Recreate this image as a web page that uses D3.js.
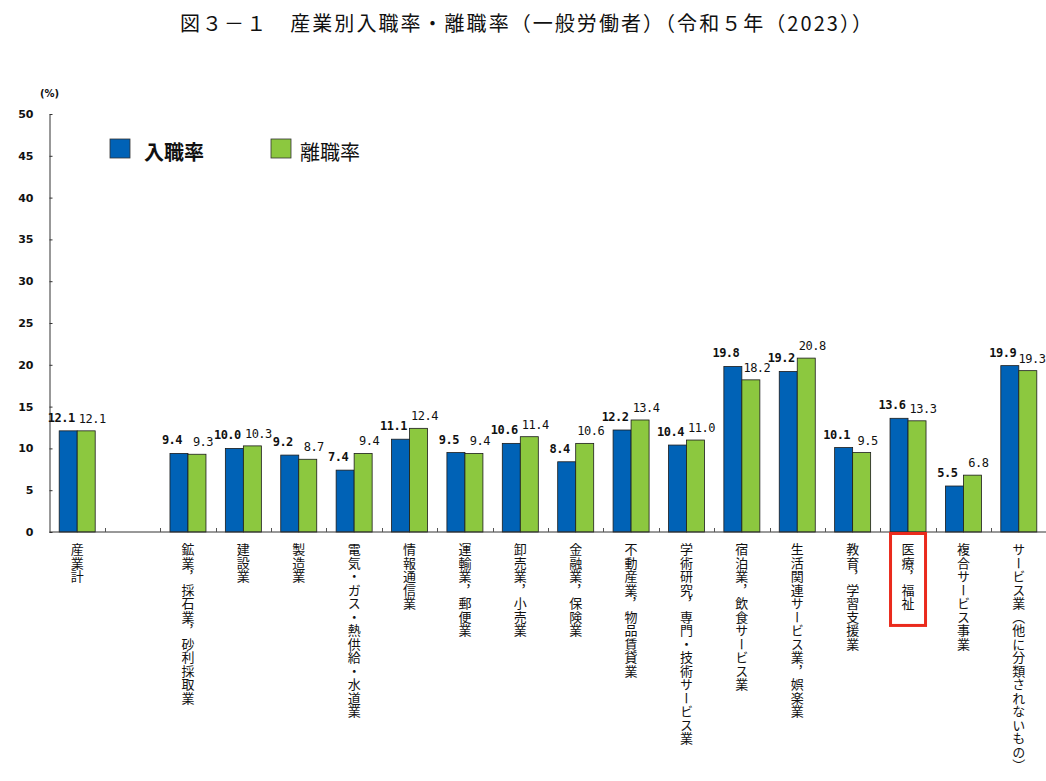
<!DOCTYPE html>
<html>
<head>
<meta charset="utf-8">
<script src="https://cdn.jsdelivr.net/npm/d3@7"></script>
<style>
  body { margin: 0; background: #fff; }
  svg { display: block; }
</style>
</head>
<body>
<div id="chart"></div>
<script>
// categories (one blank slot after the total, as in the original)
const industries = [
    "産業計", "",
    "鉱業，採石業，砂利採取業", "建設業", "製造業", "電気・ガス・熱供給・水道業",
    "情報通信業", "運輸業，郵便業", "卸売業，小売業", "金融業，保険業",
    "不動産業，物品賃貸業", "学術研究，専門・技術サービス業", "宿泊業，飲食サービス業",
    "生活関連サービス業，娯楽業", "教育，学習支援業", "医療，福祉", "複合サービス事業",
    "サービス業（他に分類されないもの）"
];
const entryRate = [12.1, null, 9.4, 10.0, 9.2, 7.4, 11.1, 9.5, 10.6, 8.4, 12.2, 10.4, 19.8, 19.2, 10.1, 13.6, 5.5, 19.9];
const separationRate = [12.1, null, 9.3, 10.3, 8.7, 9.4, 12.4, 9.4, 11.4, 10.6, 13.4, 11.0, 18.2, 20.8, 9.5, 13.3, 6.8, 19.3];
const yTicks = [0, 5, 10, 15, 20, 25, 30, 35, 40, 45, 50];
const seriesNames = ["入職率", "離職率"];
const highlighted = "医療，福祉";

const titleText = "図３－１　産業別入職率・離職率（一般労働者）（令和５年（2023））";

const width = 1046, height = 781;
const jp = "'Noto Sans CJK JP', sans-serif";
const blue = "#0062B6", green = "#8CC83F";

const svg = d3.select("#chart").append("svg")
    .attr("width", width)
    .attr("height", height);

// title
svg.append("text")
    .attr("x", 180)
    .attr("y", 31)
    .attr("textLength", 692)
    .attr("lengthAdjust", "spacing")
    .attr("font-family", jp)
    .attr("font-size", 20)
    .attr("fill", "#111")
    .text(titleText);

// scales
const x = d3.scaleBand()
    .domain(industries)
    .range([49.5, 1046.5]);

const y = d3.scaleLinear()
    .domain([0, 50])
    .range([532, 114]);

const barW = x.bandwidth() * 0.325;
const groupOff = (x.bandwidth() - 2 * barW) / 2;

// y axis, ticks point inward
const yAxis = d3.axisLeft(y)
    .tickValues(yTicks)
    .tickSizeInner(-3)
    .tickSizeOuter(0)
    .tickPadding(16);

const yg = svg.append("g")
    .attr("transform", "translate(49.5,0)")
    .call(yAxis);
yg.select(".domain").attr("stroke", "#333");
yg.selectAll(".tick line").attr("stroke", "#333");
yg.selectAll(".tick text")
    .attr("font-family", "'DejaVu Sans', sans-serif")
    .attr("font-weight", "bold")
    .attr("font-size", 11)
    .attr("fill", "#111");

svg.append("text")
    .attr("x", 40)
    .attr("y", 97)
    .attr("font-family", "'DejaVu Sans', sans-serif")
    .attr("font-weight", "bold")
    .attr("font-size", 10)
    .attr("fill", "#111")
    .text("(%)");

// bars
const rows = industries.map((name, i) => ({name: name, entry: entryRate[i], sep: separationRate[i]}))
    .filter(d => d.entry !== null);

const groupX = d => x(d.name) + groupOff;

const groups = svg.append("g").selectAll("g")
    .data(rows)
    .join("g")
    .attr("transform", d => `translate(${groupX(d)},0)`);

// soft shadow on the right of each bar
groups.append("rect")
    .attr("x", barW + 1.5)
    .attr("y", d => y(d.sep) + 1)
    .attr("width", 1.6)
    .attr("height", d => y(0) - y(d.sep) - 1)
    .attr("fill", "#9a9a9a");

groups.append("rect")
    .attr("x", 0)
    .attr("y", d => y(d.entry))
    .attr("width", barW)
    .attr("height", d => y(0) - y(d.entry))
    .attr("fill", blue)
    .attr("stroke", "#1b1b1b")
    .attr("stroke-width", 0.8);

groups.append("rect")
    .attr("x", barW)
    .attr("y", d => y(d.sep))
    .attr("width", barW)
    .attr("height", d => y(0) - y(d.sep))
    .attr("fill", green)
    .attr("stroke", "#1b1b1b")
    .attr("stroke-width", 0.8);

// value labels
const numFont = "'DejaVu Sans Mono', monospace";
groups.append("text")
    .attr("class", "val")
    .attr("x", barW / 2 - 7)
    .attr("y", d => y(d.entry) - 9)
    .attr("text-anchor", "middle")
    .attr("font-family", numFont)
    .attr("font-weight", "bold")
    .attr("font-size", 12)
    .attr("letter-spacing", -0.5)
    .attr("fill", "#111")
    .text(d => d.entry.toFixed(1));

groups.append("text")
    .attr("class", "val")
    .attr("x", d => Math.min(barW * 1.5 + 6, width - 14 - groupX(d)))
    .attr("y", d => y(d.sep) - 8)
    .attr("text-anchor", "middle")
    .attr("font-family", numFont)
    .attr("font-size", 12)
    .attr("letter-spacing", -0.5)
    .attr("fill", "#111")
    .text(d => d.sep.toFixed(1));

// lift a label when its digits run into a label already placed (left to right)
const placed = [];
svg.selectAll("text.val").nodes()
    .map(node => {
        const cx = groupX(d3.select(node).datum()) + (+node.getAttribute("x"));
        const w = node.getComputedTextLength();
        return {node: node, left: cx - w / 2, right: cx + w / 2};
    })
    .sort((a, b) => a.left - b.left)
    .forEach(lab => {
        let base = +lab.node.getAttribute("y");
        let moved = true;
        while (moved) {
            moved = false;
            for (const p of placed) {
                const overlapX = Math.min(lab.right, p.right) - Math.max(lab.left, p.left);
                if (overlapX > 3.5 && Math.abs(base - p.base) < 10.5) {
                    base = p.base - 11;
                    moved = true;
                    break;
                }
            }
        }
        lab.node.setAttribute("y", base);
        placed.push({left: lab.left, right: lab.right, base: base});
    });

// x axis baseline and small ticks between categories
svg.append("line")
    .attr("x1", 49.5).attr("x2", width)
    .attr("y1", y(0)).attr("y2", y(0))
    .attr("stroke", "#333");

svg.append("g").selectAll("line")
    .data(industries.slice(1))
    .join("line")
    .attr("x1", d => Math.round(x(d)) + 0.5)
    .attr("x2", d => Math.round(x(d)) + 0.5)
    .attr("y1", y(0))
    .attr("y2", y(0) - 4)
    .attr("stroke", "#555");

// vertical category labels
const labels = svg.append("g").selectAll("text")
    .data(industries.filter(d => d !== ""))
    .join("text")
    .attr("x", d => x(d) + x.bandwidth() / 2)
    .attr("y", 543)
    .style("writing-mode", "vertical-rl")
    .attr("font-family", jp)
    .attr("font-size", 13)
    .attr("letter-spacing", 0.5)
    .attr("fill", "#111")
    .text(d => d);

// red box around the highlighted industry
labels.filter(d => d === highlighted).each(function () {
    const b = this.getBBox();
    svg.append("rect")
        .attr("x", b.x - 8)
        .attr("y", 533.5)
        .attr("width", b.width + 16)
        .attr("height", b.y + b.height - 533.5 + 14)
        .attr("fill", "none")
        .attr("stroke", "#EA2A1C")
        .attr("stroke-width", 3);
});

// legend
const legend = svg.append("g");
legend.selectAll("rect")
    .data(seriesNames)
    .join("rect")
    .attr("x", (d, i) => i === 0 ? 110 : 271)
    .attr("y", 139)
    .attr("width", 20)
    .attr("height", 19)
    .attr("fill", (d, i) => i === 0 ? blue : green)
    .attr("stroke", "#333")
    .attr("stroke-width", 0.8);

legend.selectAll("text")
    .data(seriesNames)
    .join("text")
    .attr("x", (d, i) => i === 0 ? 144 : 300)
    .attr("y", 160)
    .attr("font-family", jp)
    .attr("font-size", 20)
    .attr("font-weight", (d, i) => i === 0 ? "bold" : "normal")
    .attr("fill", "#111")
    .text(d => d);
</script>
</body>
</html>
